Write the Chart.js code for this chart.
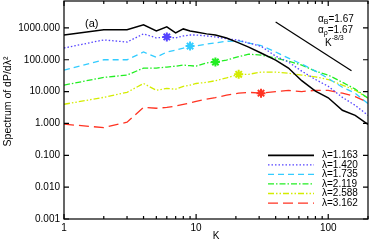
<!DOCTYPE html>
<html lang="en">
<head>
<meta charset="UTF-8">
<title>Spectrum of dP/dλ²</title>
<script src="https://cdn.jsdelivr.net/npm/chart.js@4/dist/chart.umd.min.js"></script>
<style>
    html, body { margin: 0; padding: 0; background: #fff; }
    #wrap { width: 370px; height: 242px; }
</style>
</head>
<body>
<div id="wrap"><canvas id="spectrum" width="370" height="242"></canvas></div>
<script>
// wavenumbers shared by every curve
const K = [1, 2, 3, 4, 5, 6, 7, 8, 9, 10, 12, 14, 17, 21, 25, 31, 40, 50, 63, 80, 100, 128, 160, 200];

// spectra, one array per lambda
const spec1163 = [600, 870, 870, 1250, 800, 1080, 700, 930, 800, 750, 650, 600, 480, 340, 250, 163, 98, 55, 22, 10.3, 6.4, 2.6, 1.8, 0.93];
const spec1420 = [234, 420, 360, 650, 485, 520, 485, 560, 600, 600, 560, 520, 460, 410, 335, 265, 130, 85, 44, 24, 14.7, 6.6, 3.7, 1.8];
const spec1735 = [47, 100, 100, 175, 120, 175, 200, 230, 270, 270, 310, 340, 380, 390, 335, 280, 175, 113, 73, 44, 26, 13.7, 8.9, 4.2];
const spec2119 = [16, 28, 33, 55, 55, 59, 63, 68, 65, 63, 80, 85, 98, 125, 150, 140, 113, 90, 68, 44, 33, 19.6, 12, 6.2];
const spec2588 = [4.0, 6.6, 9.5, 18, 11, 12.6, 11.9, 14.7, 16, 18, 19.6, 22, 27, 35, 35, 41, 41, 38, 33, 29, 24, 16, 11, 6.2];
const spec3162 = [0.95, 0.74, 1.1, 3.2, 3.0, 3.2, 3.5, 4.0, 4.4, 4.9, 5.8, 6.5, 7.7, 8.9, 9.5, 8.9, 10, 11, 10, 11, 11, 8.9, 7, 4.6];

const lambdas = ['1.163', '1.420', '1.735', '2.119', '2.588', '3.162'];
const starK = [null, 6, 9, 14, 21, 31];

// K^-8/3 guide line
const slopeK = [40, 150];
const slopeV = [1540, 45];

const xTicks = [1, 10, 100];
const yTicks = [0.001, 0.01, 0.1, 1, 10, 100, 1000];

const series = [spec1163, spec1420, spec1735, spec2119, spec2588, spec3162];
const colors = ['#000000', '#5544ff', '#33ccff', '#22ee22', '#d4ec00', '#ff3322'];
const dashes = [[], [1.5, 2], [6, 4], [6, 2, 1.5, 2], [6, 2, 1.5, 2, 1.5, 2], [10, 5]];
const FONT = 'Liberation Sans, Arial, sans-serif';

const datasets = series.map((vals, i) => ({
    label: 'λ=' + lambdas[i],
    data: K.map((k, j) => ({ x: k, y: vals[j] })),
    borderColor: colors[i],
    backgroundColor: colors[i],
    borderWidth: i === 0 ? 1.5 : 1.3,
    borderDash: dashes[i],
    pointStyle: 'star',
    pointBorderWidth: 2,
    pointRadius: ctx => (K[ctx.dataIndex] === starK[i] ? 4.5 : 0),
    tension: 0
}));
datasets.push({
    label: 'slope',
    data: slopeK.map((k, j) => ({ x: k, y: slopeV[j] })),
    borderColor: '#000',
    borderWidth: 1.2,
    pointRadius: 0
});

// frame, inner ticks, legend and labels
const decor = {
    id: 'decor',
    afterDraw(chart) {
        const c = chart.ctx;
        const a = chart.chartArea;
        const xs = chart.scales.x, ys = chart.scales.y;
        c.save();
        c.strokeStyle = '#000';
        c.lineWidth = 1.2;
        c.setLineDash([]);
        c.strokeRect(a.left, a.top, a.right - a.left, a.bottom - a.top);

        c.beginPath();
        yTicks.forEach(v => {
            const y = ys.getPixelForValue(v);
            c.moveTo(a.left, y); c.lineTo(a.left + 5, y);
            c.moveTo(a.right, y); c.lineTo(a.right - 5, y);
        });
        for (let d = 1; d <= 100; d *= 10) {
            for (let m = 1; m <= 9; m++) {
                const v = d * m;
                if (v > 200) break;
                const x = xs.getPixelForValue(v);
                const len = m === 1 ? 5 : 3;
                c.moveTo(x, a.bottom); c.lineTo(x, a.bottom - len);
                c.moveTo(x, a.top); c.lineTo(x, a.top + len);
            }
        }
        c.stroke();

        // legend
        c.font = '10px ' + FONT;
        c.textBaseline = 'middle';
        c.fillStyle = '#000';
        lambdas.forEach((l, i) => {
            const y = 155.3 + i * 9.55;
            c.strokeStyle = colors[i];
            c.lineWidth = i === 0 ? 1.8 : 1.3;
            c.setLineDash(dashes[i]);
            c.beginPath();
            c.moveTo(268, y); c.lineTo(314, y);
            c.stroke();
            c.fillText('λ=' + l, 322, y);
        });
        c.setLineDash([]);

        // annotations
        c.textBaseline = 'alphabetic';
        c.font = '11px ' + FONT;
        c.fillText('(a)', 85, 27);
        const sub = (base, s, y) => {
            let x = 318;
            c.font = '10px ' + FONT;
            c.fillText('α', x, y);
            x += c.measureText('α').width;
            c.font = '7px ' + FONT;
            c.fillText(s, x, y + 2);
            x += c.measureText(s).width;
            c.font = '10px ' + FONT;
            c.fillText(base, x, y);
        };
        sub('=1.67', 'B', 22);
        sub('=1.67', 'ρ', 33);
        c.font = '10px ' + FONT;
        c.fillText('K', 325, 46);
        const kw = c.measureText('K').width;
        c.font = '7px ' + FONT;
        c.fillText('-8/3', 325 + kw, 40);

        // y title
        c.translate(8, 101.5);
        c.rotate(-Math.PI / 2);
        c.font = '10.5px ' + FONT;
        c.textAlign = 'center';
        c.textBaseline = 'middle';
        c.fillText('Spectrum of dP/dλ²', 0, 0);
        c.restore();
    }
};

new Chart(document.getElementById('spectrum'), {
    type: 'line',
    data: { datasets: datasets },
    options: {
        responsive: false,
        animation: false,
        devicePixelRatio: 1,
        layout: { padding: { top: 1, right: 2, left: 0, bottom: 0 } },
        plugins: {
            legend: { display: false },
            tooltip: { enabled: false }
        },
        scales: {
            x: {
                type: 'logarithmic',
                min: 1,
                max: 200,
                afterBuildTicks: s => { s.ticks = xTicks.map(v => ({ value: v })); },
                afterFit: s => { s.height = 23; s.paddingLeft = 0; s.paddingRight = 0; },
                ticks: {
                    autoSkip: false,
                    maxRotation: 0,
                    padding: 3,
                    color: '#000',
                    font: { family: FONT, size: 10 },
                    callback: v => String(v)
                },
                grid: { display: false, drawTicks: false },
                border: { display: false },
                title: {
                    display: true,
                    text: 'K',
                    color: '#000',
                    font: { family: FONT, size: 10 },
                    padding: { top: 0, bottom: 0 }
                }
            },
            y: {
                type: 'logarithmic',
                min: 0.001,
                max: 7000,
                afterBuildTicks: s => { s.ticks = yTicks.map(v => ({ value: v })); },
                afterFit: s => { s.width = 64; s.paddingTop = 0; s.paddingBottom = 0; },
                ticks: {
                    autoSkip: false,
                    padding: 4,
                    color: '#000',
                    font: { family: FONT, size: 10 },
                    callback: v => Number(v).toFixed(3)
                },
                grid: { display: false, drawTicks: false },
                border: { display: false }
            }
        }
    },
    plugins: [decor]
});
</script>
</body>
</html>
